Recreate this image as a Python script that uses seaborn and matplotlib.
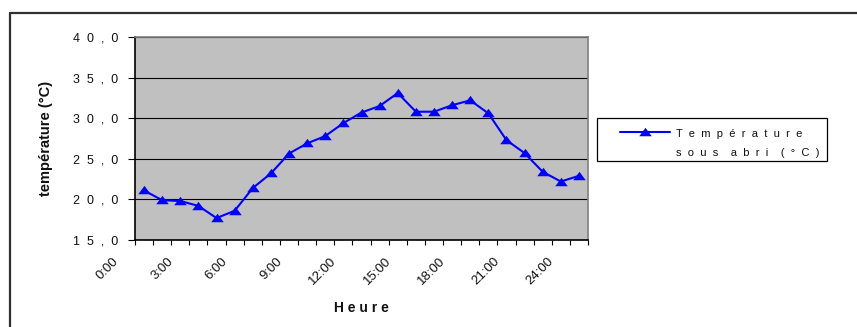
import numpy as np
import pandas as pd
import matplotlib
matplotlib.use("Agg")
import matplotlib.pyplot as plt
import seaborn as sns
from matplotlib.transforms import ScaledTranslation
from matplotlib.lines import Line2D
from matplotlib.legend_handler import HandlerLine2D

# Hourly sheltered air temperature (°C)
slot = np.arange(25)
temps = [21.1, 19.9, 19.8, 19.2, 17.7, 18.6, 21.4, 23.2, 25.65, 26.9,
         27.8, 29.4, 30.7, 31.5, 33.1, 30.8, 30.8, 31.6, 32.2, 30.6,
         27.3, 25.7, 23.4, 22.2, 22.9]
hour_labels = ["0:00", "3:00", "6:00", "9:00", "12:00", "15:00",
               "18:00", "21:00", "24:00"]
y_ticks = [15, 20, 25, 30, 35, 40]
series_name = ["Température", "sous abri (°C)"]


def spaced(text, gap="  "):
    """Letter-spaced text, words kept apart by a wider gap."""
    return (gap * 2).join(gap.join(w) for w in text.split(" "))


sns.set_theme(style="white")
plt.rcParams["font.family"] = ["Liberation Sans", "DejaVu Sans"]

W, H = 857, 327
fig = plt.figure(figsize=(W / 100, H / 100), dpi=100)
fig.patch.set_facecolor("white")

# outer chart frame (top and left edges)
fig.add_artist(Line2D([10 / W, 10 / W], [0, 1 - 13 / H], color="#303030",
                      lw=1.6, transform=fig.transFigure))
fig.add_artist(Line2D([10 / W, 1], [1 - 13 / H, 1 - 13 / H], color="#303030",
                      lw=1.6, transform=fig.transFigure))

ax = fig.add_axes([135 / W, 1 - 240 / H, 453 / W, 203 / H])
ax.set_facecolor("#C0C0C0")

df = pd.DataFrame({"slot": slot, "temp": temps})
tri = [(-1.0, -0.6), (1.0, -0.6), (0.0, 0.75), (-1.0, -0.6)]
sns.lineplot(data=df, x="slot", y="temp", ax=ax, color="#0000FF", lw=1.5,
             marker=tri, markersize=9, markeredgewidth=0,
             markerfacecolor="#0000FF",
             label="\n".join(spaced(s) for s in series_name))

ax.set_xlim(-0.5, 24.5)
ax.set_ylim(15, 40)

# y axis
ax.set_yticks(y_ticks)
ax.set_yticklabels([spaced(f"{v:.1f}".replace(".", ",")) for v in y_ticks])
ax.tick_params(axis="y", length=5, width=0.8, color="black", pad=7,
               labelsize=9, labelcolor="#111111", left=True,
               direction="out")
ax.yaxis.grid(True, color="black", lw=0.8)
ax.xaxis.grid(False)
ax.set_axisbelow(True)

# x axis: tick marks between categories, labels every third hour
ax.set_xticks(np.arange(-0.5, 25, 1), minor=True)
ax.set_xticks(slot[::3])
ax.set_xticklabels(hour_labels)
ax.tick_params(axis="x", which="minor", length=3.5, width=0.8,
               color="black", bottom=True, direction="out")
ax.tick_params(axis="x", which="major", length=0, pad=14.2, labelsize=9.5,
               labelcolor="#111111")
shift = ScaledTranslation(-0.27, 0, fig.dpi_scale_trans)
for lab in ax.get_xticklabels():
    lab.set_rotation(45)
    lab.set_rotation_mode("anchor")
    lab.set_ha("right")
    lab.set_va("center")
    lab.set_transform(lab.get_transform() + shift)

for side in ("left", "bottom"):
    ax.spines[side].set_color("black")
    ax.spines[side].set_linewidth(1.2)
for side in ("top", "right"):
    ax.spines[side].set_color("#808080")
    ax.spines[side].set_linewidth(1.2)

ax.set_xlabel(spaced("Heure", " "), fontsize=10, fontweight="bold",
              color="#111111")
ax.xaxis.set_label_coords(0.5, -(308 - 240) / 203)
ax.xaxis.label.set_va("center")
ax.set_ylabel("température (°C)", fontsize=10.5, fontweight="bold",
              color="#111111")
ax.yaxis.set_label_coords((46 - 135) / 453, 0.5)
ax.yaxis.label.set_va("center")


class LeadLine(HandlerLine2D):
    """Line handle with blank room before the sample, raised to line one."""

    def __init__(self, lead, rise, **kw):
        super().__init__(**kw)
        self.lead = lead
        self.rise = rise

    def get_xdata(self, legend, xdescent, ydescent, width, height, fontsize):
        x0 = -xdescent + self.lead
        x1 = -xdescent + width
        return np.array([x0, x1]), np.array([(x0 + x1) / 2])

    def create_artists(self, legend, orig_handle, xdescent, ydescent,
                       width, height, fontsize, trans):
        arts = super().create_artists(legend, orig_handle, xdescent,
                                      ydescent, width, height, fontsize,
                                      trans)
        for a in arts:
            a.set_ydata(np.asarray(a.get_ydata()) + self.rise)
        return arts


handles, labels = ax.get_legend_handles_labels()
leg = ax.legend(handles, labels, loc="upper left",
                bbox_to_anchor=(597 / W, 1 - 118 / H),
                bbox_transform=fig.transFigure, borderaxespad=0,
                fontsize=8, frameon=True, fancybox=False, framealpha=1,
                edgecolor="black", borderpad=0.6, handlelength=6.0,
                handletextpad=0.54, numpoints=1,
                handler_map={handles[0]: LeadLine(lead=11.8, rise=5.8)})
leg.get_frame().set_linewidth(0.9)
drop = ScaledTranslation(0, -0.04, fig.dpi_scale_trans)
for t in leg.get_texts():
    t.set_linespacing(2.2)
    t.set_color("#111111")
    t.set_transform(t.get_transform() + drop)

fig.savefig("out.png", dpi=100)
